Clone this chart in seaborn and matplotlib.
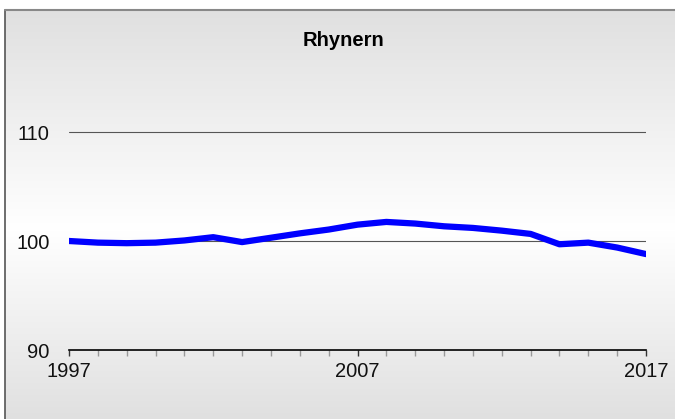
import numpy as np
import pandas as pd
import matplotlib
matplotlib.use("Agg")
from matplotlib import pyplot as plt
from matplotlib.lines import Line2D
import matplotlib.ticker as ticker
import seaborn as sns

# dati (indice, 1997 = 100)
anni = [1997, 1998, 1999, 2000, 2001, 2002, 2003, 2004, 2005, 2006, 2007,
        2008, 2009, 2010, 2011, 2012, 2013, 2014, 2015, 2016, 2017]
valori = [100.0, 99.85, 99.8, 99.85, 100.05, 100.35, 99.9, 100.3, 100.7, 101.05, 101.5,
          101.75, 101.6, 101.35, 101.2, 100.95, 100.65, 99.7, 99.85, 99.4, 98.8]
titolo = "Rhynern"
y_ticks = [90, 100, 110]
x_ticks = [1997, 2007, 2017]

df = pd.DataFrame({"anno": anni, "valore": valori})

sns.set_theme(style="white")
plt.rcParams['font.family'] = ['Liberation Sans', 'DejaVu Sans']

W, H = 675, 419
fig = plt.figure(figsize=(W / 100, H / 100), dpi=100)

# sfondo sfumato grigio -> bianco -> grigio (riga 0 = in alto)
righe = np.arange(H)
grigio = np.where(righe < 230,
                  224 + 31 * np.clip((righe - 10) / 220, 0, 1),
                  255 - 31 * (righe - 230) / (H - 230)) / 255
img = np.repeat(grigio[:, None], W, axis=1)
img[:10, :] = 1.0
img[:, :5] = 1.0
rgb = np.dstack([img, img, img])
fig.figimage(rgb, xo=0, yo=0, origin="upper", zorder=-10)

# bordo in alto e a sinistra
fig.add_artist(Line2D([5.5 / W, 5.5 / W], [0, 1 - 10 / H], color="#555555", lw=1.2))
fig.add_artist(Line2D([5.5 / W, 1], [1 - 10 / H, 1 - 10 / H], color="#888888", lw=1.5))

ax = fig.add_axes([69 / W, 1 - 350 / H, (646 - 69) / W, 327 / H])
ax.set_facecolor("none")
sns.lineplot(data=df, x="anno", y="valore", ax=ax, color="#0000ff", linewidth=4.5,
             solid_joinstyle="round", solid_capstyle="round", zorder=5)

ax.set_xlim(1997, 2017)
ax.set_ylim(90, 120)
ax.set_yticks(y_ticks)
ax.set_xticks(x_ticks)
ax.xaxis.set_minor_locator(ticker.MultipleLocator(1))
ax.set_xlabel("")
ax.set_ylabel("")

for v in y_ticks[1:]:
    ax.axhline(v, color="#555555", lw=0.8, zorder=1)

for s in ["top", "right", "left"]:
    ax.spines[s].set_visible(False)
ax.spines["bottom"].set_color("black")
ax.spines["bottom"].set_linewidth(1.2)

ax.tick_params(axis="y", length=0, pad=14, labelsize=14.5, labelcolor="#111111")
ax.tick_params(axis="x", which="major", direction="out", length=4.5, width=1,
               color="#333333", pad=4, labelsize=14.5, labelcolor="#111111", bottom=True)
ax.tick_params(axis="x", which="minor", direction="out", length=4.5, width=1,
               color="#999999", bottom=True)

fig.text(344 / W, 1 - 46 / H, titolo, ha="center", va="baseline",
         fontsize=14.5, fontweight="bold", color="black")

fig.savefig("out.png", dpi=100)
